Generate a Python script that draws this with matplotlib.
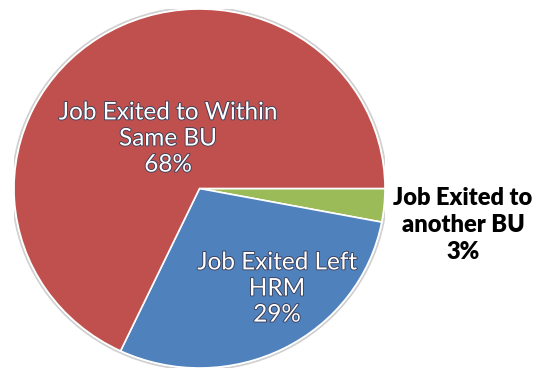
import matplotlib
matplotlib.use("Agg")
import matplotlib.pyplot as plt
import matplotlib.patheffects as pe

labels = ["Job Exited to\nanother BU", "Job Exited Left\nHRM", "Job Exited to Within\nSame BU"]
shares = [3, 29, 68]
colors = ["#9BBB59", "#4F81BD", "#C0504D"]

W, H = 536, 373
fig = plt.figure(figsize=(W / 100, H / 100), dpi=100)
# pie is a bit wider than tall, so the axes box sets the shape
ax = fig.add_axes([14 / W, 5 / H, 371 / W, 359 / H])

wedges, _ = ax.pie(shares, colors=colors, startangle=0, counterclock=False,
                   radius=1.0, wedgeprops=dict(edgecolor="white", linewidth=1.2))
# soft grey rim round the whole pie
ax.add_patch(plt.Circle((0, 0), 1.01, fill=False, edgecolor="#d0d0d0", linewidth=1.3, zorder=0))
ax.set_aspect("auto")
ax.set_xlim(-1, 1)
ax.set_ylim(-1, 1)
ax.axis("off")

plt.rcParams["font.family"] = ["Lato", "DejaVu Sans"]
outline = [pe.withStroke(linewidth=1.3, foreground="#3a3f5a")]

def to_data(px, py):
    x = (px - 14) / 371 * 2 - 1
    y = 1 - (py - 10) / 359 * 2
    return x, y

# label positions in pixels, one per slice
label_px = [(463, 225), (277, 290), (168, 140)]
for i, (lab, val) in enumerate(zip(labels, shares)):
    x, y = to_data(*label_px[i])
    txt = f"{lab}\n{val}%"
    if i == 0:
        fig.text(label_px[i][0] / W, 1 - label_px[i][1] / H, txt, ha="center", va="center",
                 fontsize=17, fontweight="heavy", color="black", linespacing=1.3)
    else:
        ax.text(x, y, txt, ha="center", va="center", fontsize=17.5, color="white",
                linespacing=1.3, path_effects=outline)

fig.savefig("out.png", dpi=100)
